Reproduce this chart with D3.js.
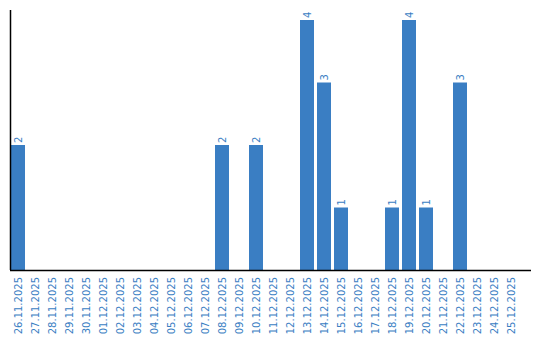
<!DOCTYPE html>
<html><head><meta charset="utf-8">
<script src="https://cdn.jsdelivr.net/npm/d3@7"></script>
<style>body{margin:0;background:#fff}svg{display:block}</style>
</head><body>
<svg id="c" width="540" height="340"></svg>
<script>
const categories = ["26.11.2025","27.11.2025","28.11.2025","29.11.2025","30.11.2025","01.12.2025","02.12.2025","03.12.2025","04.12.2025","05.12.2025","06.12.2025","07.12.2025","08.12.2025","09.12.2025","10.12.2025","11.12.2025","12.12.2025","13.12.2025","14.12.2025","15.12.2025","16.12.2025","17.12.2025","18.12.2025","19.12.2025","20.12.2025","21.12.2025","22.12.2025","23.12.2025","24.12.2025","25.12.2025"];
const values = [2,0,0,0,0,0,0,0,0,0,0,0,2,0,2,0,0,4,3,1,0,0,1,4,1,0,3,0,0,0];
const yDomain = [0, 4];

const svg = d3.select("#c");
const color = "#3a7ec3";
const font = "DejaVu Sans, Verdana, sans-serif";

const x = d3.scaleBand().domain(categories).range([11, 518]).paddingInner(3/17).paddingOuter(0);
const y = d3.scaleLinear().domain(yDomain).range([270, 20]);

const data = categories.map((c, i) => ({c, v: values[i]}));

svg.append("g").selectAll("rect").data(data.filter(d => d.v > 0)).join("rect")
  .attr("x", d => x(d.c)).attr("y", d => y(d.v))
  .attr("width", x.bandwidth()).attr("height", d => y(0) - y(d.v))
  .attr("fill", color);

svg.append("g").selectAll("text").data(data.filter(d => d.v > 0)).join("text")
  .attr("transform", d => `translate(${x(d.c) + x.bandwidth()/2 + 3.5},${y(d.v) - 2}) rotate(-90)`)
  .attr("text-anchor", "start")
  .attr("font-family", font).attr("font-size", 10).attr("fill", color)
  .text(d => d.v);

// x axis
const xAxis = svg.append("g").attr("transform", "translate(0,270)")
  .call(d3.axisBottom(x).tickSize(0).tickPadding(0));
xAxis.select(".domain").remove();
xAxis.append("line").attr("x1", 10).attr("x2", 531).attr("y1", 0.5).attr("y2", 0.5)
  .attr("stroke", "#000").attr("stroke-width", 1.5);
xAxis.selectAll(".tick text")
  .attr("font-family", font).attr("font-size", 10).attr("fill", color)
  .attr("text-anchor", "end")
  .attr("transform", "rotate(-90)")
  .attr("x", -7).attr("y", 0).attr("dy", "0.35em");

// y axis line
svg.append("line").attr("x1", 10.5).attr("x2", 10.5).attr("y1", 10).attr("y2", 270)
  .attr("stroke", "#000").attr("stroke-width", 1.5);
</script>
</body></html>
